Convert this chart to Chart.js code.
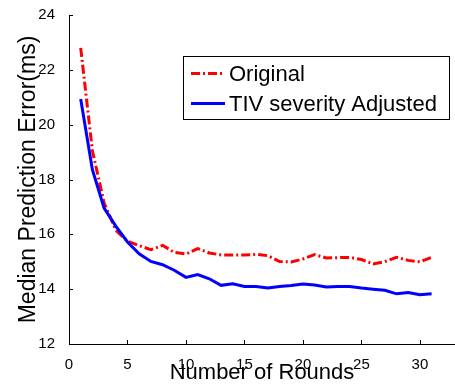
<!DOCTYPE html>
<html>
<head>
<meta charset="utf-8">
<script src="https://cdn.jsdelivr.net/npm/chart.js@4/dist/chart.umd.min.js"></script>
<style>
html,body{margin:0;padding:0;background:#fff;overflow:hidden;}
canvas{display:block;}
</style>
</head>
<body>
<canvas id="c" width="455" height="390"></canvas>
<script>
const rounds = [1,2,3,4,5,6,7,8,9,10,11,12,13,14,15,16,17,18,19,20,21,22,23,24,25,26,27,28,29,30,31];
const original = [22.80,19.05,17.15,16.15,15.75,15.59,15.44,15.60,15.34,15.28,15.48,15.32,15.25,15.25,15.25,15.27,15.22,15.01,14.99,15.10,15.26,15.14,15.15,15.16,15.08,14.92,15.00,15.16,15.05,15.00,15.16];
const adjusted = [20.94,18.36,16.96,16.30,15.72,15.29,15.01,14.89,14.69,14.43,14.53,14.38,14.14,14.20,14.10,14.10,14.04,14.10,14.13,14.19,14.15,14.08,14.10,14.10,14.04,14.00,13.96,13.83,13.88,13.80,13.83];
const seriesNames = ["Original", "TIV severity Adjusted"];
const xTicks = [0,5,10,15,20,25,30];
const yTicks = [12,14,16,18,20,22,24];
const xTitle = "Number of Rounds";
const yTitle = "Median Prediction Error(ms)";

const FONT = "'Liberation Sans', Arial, sans-serif";
const RED = "#ff0000", BLUE = "#0000ff";
const RED_DASH = [9,3,2,3];

const toPts = arr => rounds.map((r,i)=>({x:r, y:arr[i]}));

const tickMarks = {
  id: 'tickMarks',
  afterDraw(chart){
    const {ctx, chartArea:a, scales:{x,y}} = chart;
    ctx.save();
    ctx.strokeStyle = '#000';
    ctx.lineWidth = 1;
    ctx.beginPath();
    x.ticks.forEach(t=>{
      const px = Math.round(x.getPixelForValue(t.value))+0.5;
      ctx.moveTo(px, a.bottom); ctx.lineTo(px, a.bottom-4);
    });
    y.ticks.forEach(t=>{
      const py = Math.round(y.getPixelForValue(t.value))+0.5;
      ctx.moveTo(a.left, py); ctx.lineTo(a.left+4, py);
    });
    ctx.stroke();
    ctx.restore();
  }
};

const boxLegend = {
  id: 'boxLegend',
  afterDraw(chart){
    const ctx = chart.ctx;
    const bx = 183.5, by = 56.5, bw = 266, bh = 63;
    ctx.save();
    ctx.fillStyle = '#fff';
    ctx.fillRect(bx, by, bw, bh);
    ctx.strokeStyle = '#000';
    ctx.lineWidth = 1;
    ctx.strokeRect(bx, by, bw, bh);
    const items = [
      {label: seriesNames[0], color: RED, dash: RED_DASH, y: 73.5},
      {label: seriesNames[1], color: BLUE, dash: [], y: 103.5}
    ];
    items.forEach(it=>{
      ctx.beginPath();
      ctx.setLineDash(it.dash);
      ctx.strokeStyle = it.color;
      ctx.lineWidth = 3;
      ctx.moveTo(191, it.y); ctx.lineTo(225, it.y);
      ctx.stroke();
      ctx.setLineDash([]);
      ctx.fillStyle = '#000';
      ctx.font = '22px ' + FONT;
      ctx.textBaseline = 'middle';
      ctx.textAlign = 'left';
      ctx.fillText(it.label, 229, it.y + 1);
    });
    ctx.restore();
  }
};

new Chart(document.getElementById('c'), {
  type: 'line',
  data: {
    datasets: [
      {label: seriesNames[0], data: toPts(original), borderColor: RED, borderWidth: 3, borderDash: RED_DASH, pointRadius: 0, tension: 0, fill: false, order: 1},
      {label: seriesNames[1], data: toPts(adjusted), borderColor: BLUE, borderWidth: 3, pointRadius: 0, tension: 0, fill: false, order: 0}
    ]
  },
  options: {
    responsive: false,
    animation: false,
    devicePixelRatio: 1,
    layout: {padding: {top: 15, right: 0, left: 0, bottom: 0}},
    plugins: {legend: {display: false}, tooltip: {enabled: false}},
    scales: {
      x: {
        type: 'linear', min: 0, max: 33,
        afterBuildTicks: s => { s.ticks = xTicks.map(v=>({value:v})); },
        afterFit: s => { s.height = 46; },
        grid: {display: false},
        border: {display: true, color: '#000', width: 1},
        ticks: {color: '#000', padding: 4, maxRotation: 0, font: {family: FONT, size: 15}},
        title: {display: true, text: xTitle, color: '#000', font: {family: FONT, size: 22}, padding: {top: 0, bottom: 4}}
      },
      y: {
        type: 'linear', min: 12, max: 24,
        afterBuildTicks: s => { s.ticks = yTicks.map(v=>({value:v})); },
        afterFit: s => { s.width = 69; },
        grid: {display: false},
        border: {display: true, color: '#000', width: 1},
        ticks: {color: '#000', padding: 6, font: {family: FONT, size: 15}},
        title: {display: true, text: yTitle, color: '#000', font: {family: FONT, size: 23}, padding: {top: 15, bottom: 0}}
      }
    }
  },
  plugins: [tickMarks, boxLegend]
});
</script>
</body>
</html>
